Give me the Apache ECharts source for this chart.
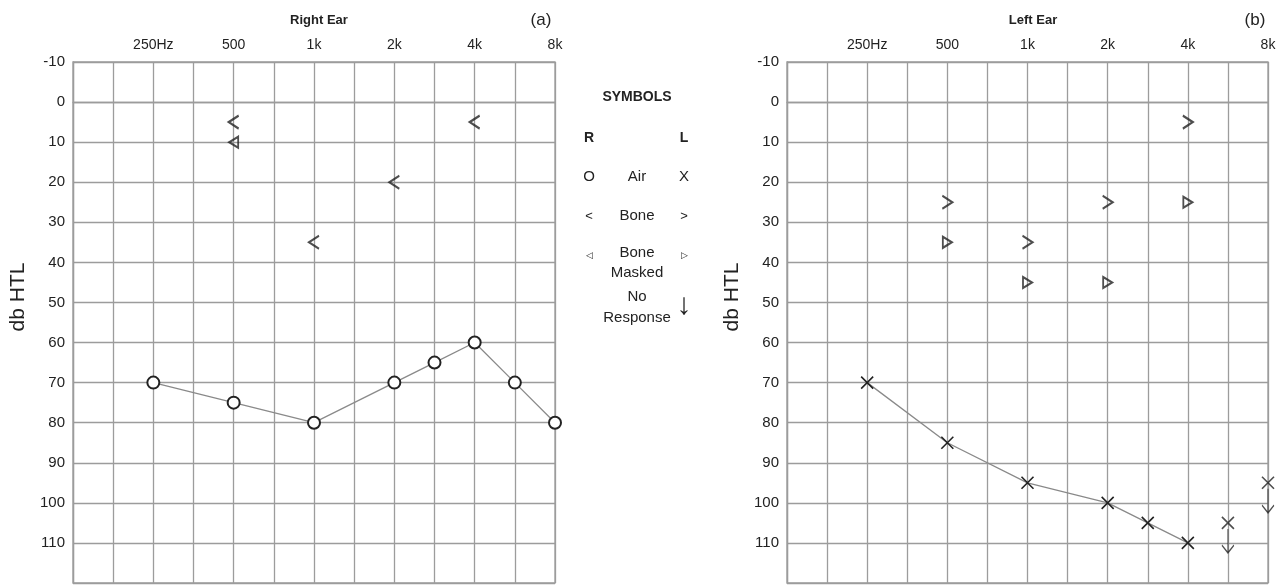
<!DOCTYPE html>
<html>
<head>
<meta charset="utf-8">
<script src="https://cdn.jsdelivr.net/npm/echarts@6/dist/echarts.min.js"></script>
<style>html,body{margin:0;padding:0;background:#fff;}#c{width:1288px;height:586px;}</style>
</head>
<body>
<div id="c"></div>
<script>
// frequency grid (half-octave steps, index 0 = 125 Hz)
const freqLabels = ['', '', '250Hz', '', '500', '', '1k', '', '2k', '', '4k', '', '8k'];
const dbTicks = [-10, 0, 10, 20, 30, 40, 50, 60, 70, 80, 90, 100, 110];

// Right ear (a)
const rightAirX = [2, 4, 6, 8, 9, 10, 11, 12];
const rightAirDb = [70, 75, 80, 70, 65, 60, 70, 80];
const rightBoneX = [4, 6, 8, 10];
const rightBoneDb = [5, 35, 20, 5];
const rightMaskedX = [4];
const rightMaskedDb = [10];

// Left ear (b)
const leftAirX = [2, 4, 6, 8, 9, 10];
const leftAirDb = [70, 85, 95, 100, 105, 110];
const leftNoRespX = [11, 12];
const leftNoRespDb = [105, 95];
const leftBoneX = [4, 6, 8, 10];
const leftBoneDb = [25, 35, 25, 5];
const leftMaskedX = [4, 6, 8, 10];
const leftMaskedDb = [35, 45, 45, 25];

const zip = (xs, ys) => xs.map((x, i) => [x, ys[i]]);
const FONT = 'Arial, "Liberation Sans", sans-serif';
const INK = '#222';
const GRIDC = '#9c9c9c';

const SYM = {
  lt: 'path://M10,0 L0,6 L10,12',
  gt: 'path://M0,0 L10,6 L0,12',
  triL: 'path://M10,0 L0,6 L10,12 Z',
  triR: 'path://M0,0 L10,6 L0,12 Z',
  x: 'path://M0,0 L10,10 M10,0 L0,10',
  arrow: 'path://M5,0 L5,22 M0,15 L5,22 L10,15'
};

function xAx(gi) {
  return {
    type: 'value', gridIndex: gi, min: 0, max: 12, interval: 1, position: 'top',
    axisLine: {show: true, lineStyle: {color: GRIDC, width: 1.3}},
    axisTick: {show: false},
    splitLine: {show: true, lineStyle: {color: GRIDC, width: 1.3}},
    axisLabel: {formatter: v => freqLabels[v] || '', color: INK, fontSize: 14, fontFamily: FONT, margin: 10}
  };
}
function yAx(gi) {
  return {
    type: 'value', gridIndex: gi, min: -10, max: 120, interval: 10, inverse: true,
    axisLine: {show: true, lineStyle: {color: GRIDC, width: 1.3}},
    axisTick: {show: false},
    splitLine: {show: true, lineStyle: {color: GRIDC, width: 1.3}},
    axisLabel: {formatter: v => dbTicks.indexOf(v) >= 0 ? String(v) : '', color: INK, fontSize: 15, fontFamily: FONT, margin: 8}
  };
}
function markers(name, gi, data, symbol, size, extra) {
  return Object.assign({
    name, type: 'scatter', xAxisIndex: gi, yAxisIndex: gi, data,
    symbol, symbolSize: size, z: 5,
    itemStyle: {color: 'rgba(0,0,0,0)', borderColor: INK, borderWidth: 2}
  }, extra || {});
}

const legendTexts = [
  ['SYMBOLS', 637, 97, true, 14],
  ['R', 589, 138, true, 14], ['L', 684, 138, true, 14],
  ['O', 589, 177, false, 15], ['Air', 637, 177, false, 15], ['X', 684, 177, false, 15],
  ['<', 589, 216, false, 13], ['Bone', 637, 216, false, 15], ['>', 684, 216, false, 13],
  ['◁', 589, 256, false, 9], ['Bone', 637, 253, false, 15], ['▷', 684, 256, false, 9],
  ['Masked', 637, 273, false, 15],
  ['No', 637, 297, false, 15], ['Response', 637, 318, false, 15],
  ['↓', 684, 306, false, 30]
];
const axisNames = [['db HTL', 18, 297], ['db HTL', 732, 297]];

const chart = echarts.init(document.getElementById('c'), null, {renderer: 'canvas'});
chart.setOption({
  animation: false,
  backgroundColor: '#fff',
  title: [
    {text: 'Right Ear', left: 314, top: 9, textAlign: 'center', textStyle: {fontSize: 13, fontWeight: 'bold', color: INK, fontFamily: FONT}},
    {text: '(a)', left: 536, top: 7, textAlign: 'center', textStyle: {fontSize: 17, fontWeight: 'normal', color: INK, fontFamily: FONT}},
    {text: 'Left Ear', left: 1028, top: 9, textAlign: 'center', textStyle: {fontSize: 13, fontWeight: 'bold', color: INK, fontFamily: FONT}},
    {text: '(b)', left: 1250, top: 7, textAlign: 'center', textStyle: {fontSize: 17, fontWeight: 'normal', color: INK, fontFamily: FONT}}
  ],
  grid: [
    {left: 73, top: 62, width: 482, height: 521, show: true, borderColor: GRIDC, borderWidth: 1.3},
    {left: 787, top: 62, width: 481, height: 521, show: true, borderColor: GRIDC, borderWidth: 1.3}
  ],
  xAxis: [xAx(0), xAx(1)],
  yAxis: [yAx(0), yAx(1)],
  graphic: legendTexts.map(([t, x, y, b, fs]) => ({
    type: 'text', x, y,
    style: {text: t, fill: INK, font: (b ? 'bold ' : '') + fs + 'px ' + FONT, textAlign: 'center', textVerticalAlign: 'middle'}
  })).concat(axisNames.map(([t, x, y]) => ({
    type: 'text', x, y, rotation: Math.PI / 2,
    style: {text: t, fill: INK, font: '21px ' + FONT, textAlign: 'center', textVerticalAlign: 'middle'}
  }))),
  series: [
    {
      name: 'Right Air', type: 'line', xAxisIndex: 0, yAxisIndex: 0,
      data: zip(rightAirX, rightAirDb), symbol: 'emptyCircle', symbolSize: 12, z: 4,
      lineStyle: {color: '#8a8a8a', width: 1.3},
      itemStyle: {color: INK, borderColor: INK, borderWidth: 1.6}
    },
    markers('Right Bone', 0, zip(rightBoneX, rightBoneDb), SYM.lt, [10, 13]),
    markers('Right Bone Masked', 0, zip(rightMaskedX, rightMaskedDb), SYM.triL, [9, 11]),
    {
      name: 'Left Air', type: 'line', xAxisIndex: 1, yAxisIndex: 1,
      data: zip(leftAirX, leftAirDb), symbol: SYM.x, symbolSize: 12, z: 4,
      lineStyle: {color: '#8a8a8a', width: 1.3},
      itemStyle: {color: 'rgba(0,0,0,0)', borderColor: INK, borderWidth: 1.6}
    },
    markers('Left Air No Response', 1, zip(leftNoRespX, leftNoRespDb), SYM.x, 12, {itemStyle: {color: 'rgba(0,0,0,0)', borderColor: INK, borderWidth: 1.6}}),
    markers('No Response Arrow', 1, zip(leftNoRespX, leftNoRespDb), SYM.arrow, [12, 24], {symbolOffset: [0, 18], itemStyle: {color: 'rgba(0,0,0,0)', borderColor: INK, borderWidth: 1.3}}),
    markers('Left Bone', 1, zip(leftBoneX, leftBoneDb), SYM.gt, [10, 13]),
    markers('Left Bone Masked', 1, zip(leftMaskedX, leftMaskedDb), SYM.triR, [9, 11])
  ]
});
</script>
</body>
</html>
